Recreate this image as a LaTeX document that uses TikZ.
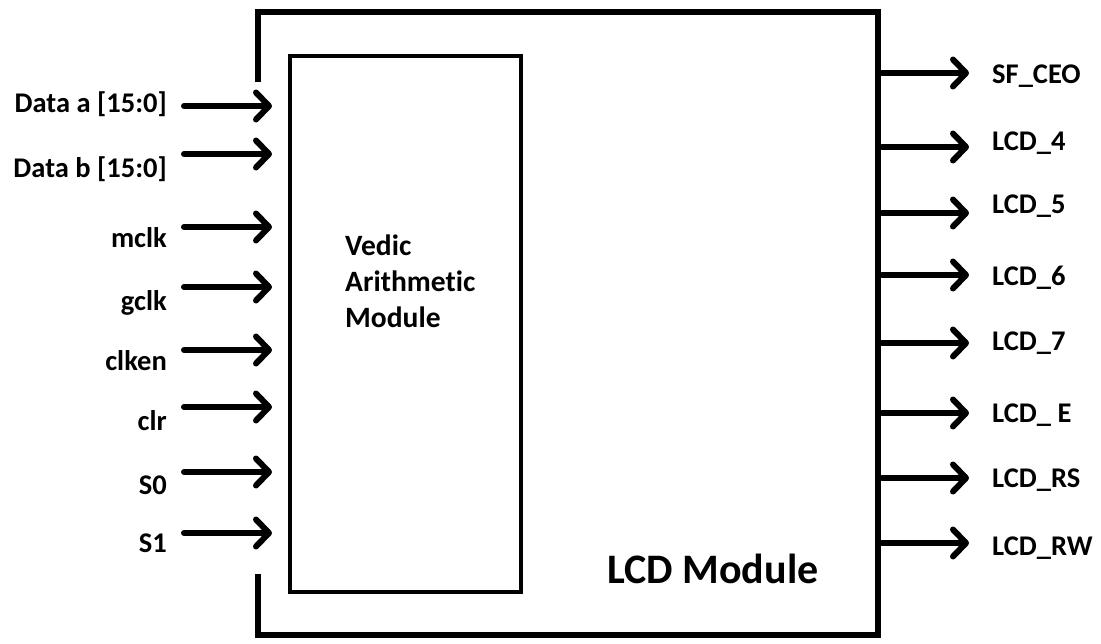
\documentclass[tikz,border=0pt]{standalone}
\usepackage{fontspec}
\setmainfont[Ligatures={NoCommon}]{Carlito}
\usetikzlibrary{arrows.meta}
\tikzset{
  sig/.style={line width=6pt, line cap=round, -{Straight Barb[length=13pt,width=27pt,line width=6pt,round]}},
  lbl/.style={font=\bfseries\fontsize{28.5}{30}\selectfont, inner sep=0pt},
  lblL/.style={lbl, anchor=base east},
  lblR/.style={lbl, anchor=base west},
}
\begin{document}
\begin{tikzpicture}[x=1pt,y=-1pt]
\useasboundingbox (0,0) rectangle (1101,643);
% outer LCD module box
\coordinate (o1) at (258,82);
\coordinate (o2) at (258,12);
\coordinate (o3) at (878,12);
\coordinate (o4) at (878,635);
\coordinate (o5) at (258,635);
\coordinate (o6) at (258,574);
\draw[line width=6pt] (o1) -- (o2) -- (o3) -- (o4) -- (o5) -- (o6);
% inner box
\node[draw, line width=4.5pt, minimum width=231pt, minimum height=536pt, inner sep=0pt] (vam) at (405.5,324) {};
\node[font=\bfseries\fontsize{29.5}{36}\selectfont, align=left, anchor=base west, inner sep=0pt] (vamt) at (345,327) {Vedic\\Arithmetic\\Module};
\node[font=\bfseries\fontsize{42}{44}\selectfont, anchor=base west, inner sep=0pt] (lcdt) at (607,583) {LCD Module};
% inputs
\foreach \n/\t/\ay/\ly in {a/Data a [15:0]/106/112, b/Data b [15:0]/154/177, c/mclk/227/247, d/gclk/287/310, e/clken/350/370, f/clr/407/430, g/S0/472/494, h/S1/533/552}{
  \node[lblL] (in\n) at (167,\ly) {\t};
  \coordinate (is\n) at (184,\ay);
  \coordinate (it\n) at (272,\ay);
  \draw[sig] (is\n) -- (it\n);
}
% outputs
\foreach \n/\t/\ay/\ly in {a/SF\_CEO/73/83, b/LCD\_4/147/150, c/LCD\_5/213/213, d/LCD\_6/275/285, e/LCD\_7/343/350, f/LCD\_ E/413/422, g/LCD\_RS/478/487, h/LCD\_RW/543/555}{
  \coordinate (os\n) at (882,\ay);
  \coordinate (ot\n) at (969,\ay);
  \draw[sig] (os\n) -- (ot\n);
  \node[lblR] (out\n) at (992,\ly) {\t};
}
\end{tikzpicture}
\end{document}
